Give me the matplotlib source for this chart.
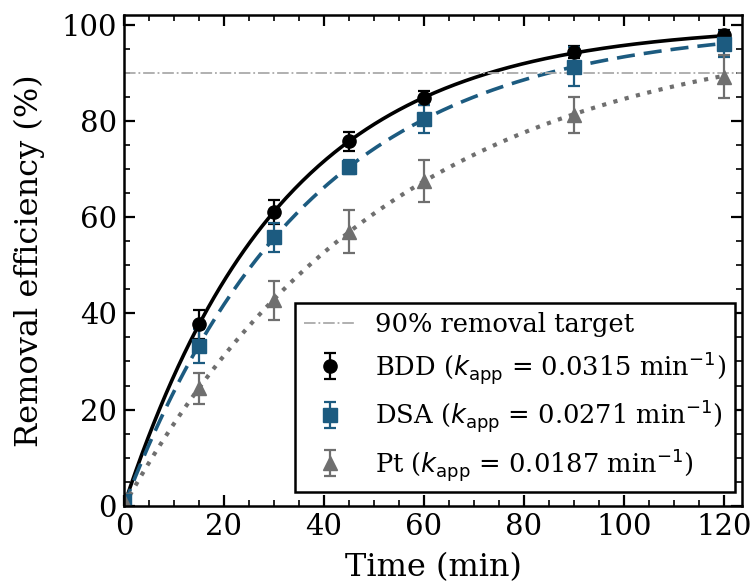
import numpy as np
import matplotlib
matplotlib.use('Agg')
import matplotlib.pyplot as plt

# sampling times (min)
time = [0, 15, 30, 45, 60, 90, 120]

# measured removal efficiency (%) and std errors
bdd = [0.5, 37.7, 61.0, 75.8, 84.8, 94.3, 97.9]
bdd_err = [1.5, 3.0, 2.5, 2.0, 1.5, 1.2, 1.0]
dsa = [1.0, 33.2, 55.8, 70.4, 80.4, 91.3, 96.0]
dsa_err = [1.5, 3.5, 3.0, 1.5, 3.0, 4.0, 2.7]
pt = [1.0, 24.4, 42.7, 57.0, 67.5, 81.2, 89.2]
pt_err = [1.5, 3.3, 4.0, 4.5, 4.3, 3.7, 4.5]

# apparent rate constants (min^-1) from pseudo-first-order fit
k_bdd = 0.0315
k_dsa = 0.0271
k_pt = 0.0187

target = 90

blue = '#1c5b80'
gray = '#6f6f6f'

plt.rcParams['font.family'] = 'DejaVu Serif'
plt.rcParams['mathtext.fontset'] = 'dejavusans'

fig = plt.figure(figsize=(7.51, 5.84), dpi=100)
ax = fig.add_axes([0.165, 0.134, 0.823, 0.840])

# fitted curves
tfit = np.linspace(0, 120, 300)
ax.plot(tfit, 100 * (1 - np.exp(-k_bdd * tfit)), color='black', lw=2.6, ls='-')
ax.plot(tfit, 100 * (1 - np.exp(-k_dsa * tfit)), color=blue, lw=2.6, ls=(0, (5, 2.5)))
ax.plot(tfit, 100 * (1 - np.exp(-k_pt * tfit)), color=gray, lw=3, ls=(0, (1, 1.8)))

# target line
hline = ax.axhline(target, color='#aaaaaa', lw=1.3, ls='-.', label='90% removal target')

# measured points
e1 = ax.errorbar(time, bdd, yerr=bdd_err, fmt='o', color='black', ms=9.5, capsize=4.5,
                 elinewidth=1.6, capthick=1.6,
                 label=r'BDD ($k_{\mathrm{app}}$ = 0.0315 min$^{-1}$)')
e2 = ax.errorbar(time, dsa, yerr=dsa_err, fmt='s', color=blue, ms=9.5, capsize=4.5,
                 elinewidth=1.6, capthick=1.6,
                 label=r'DSA ($k_{\mathrm{app}}$ = 0.0271 min$^{-1}$)')
e3 = ax.errorbar(time, pt, yerr=pt_err, fmt='^', color=gray, ms=9.5, capsize=4.5,
                 elinewidth=1.6, capthick=1.6,
                 label=r'Pt ($k_{\mathrm{app}}$ = 0.0187 min$^{-1}$)')

ax.set_xlim(0, 123.6)
ax.set_ylim(0, 102)
ax.set_xticks([0, 20, 40, 60, 80, 100, 120])
ax.set_yticks([0, 20, 40, 60, 80, 100])
ax.set_xticks(np.arange(0, 124, 5), minor=True)
ax.set_yticks(np.arange(0, 102, 5), minor=True)
ax.tick_params(which='both', direction='in', top=True, right=True, labelsize=21)
ax.tick_params(which='major', length=8, width=1.6, pad=5)
ax.tick_params(which='minor', length=4, width=1.2)
for s in ax.spines.values():
    s.set_linewidth(1.8)

ax.set_xlabel('Time (min)', fontsize=23, labelpad=8)
ax.set_ylabel('Removal efficiency (%)', fontsize=23, labelpad=12)

leg = ax.legend(handles=[hline, e1, e2, e3], loc='lower right', fontsize=18.5,
                fancybox=False, edgecolor='black', framealpha=1, borderpad=0.35,
                handlelength=2.0, handletextpad=0.75, labelspacing=0.45,
                borderaxespad=0, bbox_to_anchor=(0.989, 0.029))
leg.get_frame().set_linewidth(1.8)

fig.savefig('out.png', dpi=100)
